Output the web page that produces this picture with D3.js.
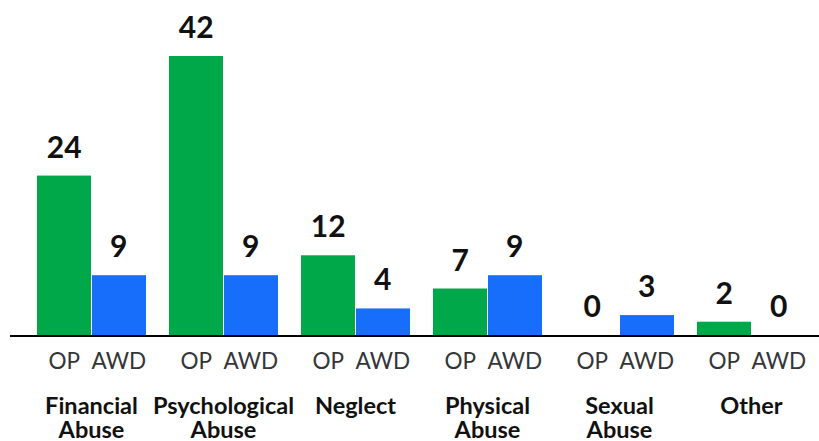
<!DOCTYPE html>
<html><head><meta charset="utf-8">
<script src="https://cdn.jsdelivr.net/npm/d3@7"></script>
<style>body{margin:0;background:#fff}svg{display:block}text{font-family:Lato,"Open Sans",sans-serif}</style>
</head><body>
<svg id="c" width="819" height="441"></svg>
<script>
const categories = [["Financial","Abuse"],["Psychological","Abuse"],["Neglect"],["Physical","Abuse"],["Sexual","Abuse"],["Other"]];
const seriesNames = ["OP","AWD"];
const opValues = [24,42,12,7,0,2];
const awdValues = [9,9,4,9,3,0];
const colors = {OP:"#00A84A", AWD:"#176EFB"};

const svg = d3.select("#c");
const catKeys = categories.map(c=>c.join(" "));
const x0 = d3.scaleBand().domain(catKeys).range([25.5,817.5]).paddingInner(0.174).paddingOuter(0.087);
const x1 = d3.scaleBand().domain(seriesNames).range([0,x0.bandwidth()]);
const y = d3.scaleLinear().domain([0,42]).range([335,56]);

const data = catKeys.map((k,i)=>({key:k, lines:categories[i], vals:[{s:"OP",v:opValues[i]},{s:"AWD",v:awdValues[i]}]}));

const g = svg.selectAll("g.grp").data(data).enter().append("g").attr("class","grp")
  .attr("transform",d=>`translate(${x0(d.key)},0)`);

g.selectAll("rect").data(d=>d.vals).enter().append("rect")
  .attr("x",d=>x1(d.s)+(d.s==="AWD"?0.5:0)).attr("width",x1.bandwidth()-0.5)
  .attr("y",d=>y(d.v)).attr("height",d=>y(0)-y(d.v))
  .attr("fill",d=>colors[d.s]);

g.selectAll("text.val").data(d=>d.vals).enter().append("text").attr("class","val")
  .attr("x",d=>x1(d.s)+x1.bandwidth()/2).attr("y",d=>y(d.v)-18)
  .attr("text-anchor","middle").attr("font-size",30).attr("font-weight","bold").attr("fill","#111")
  .text(d=>d.v);

g.selectAll("text.ser").data(d=>d.vals).enter().append("text").attr("class","ser")
  .attr("x",d=>x1(d.s)+x1.bandwidth()/2).attr("y",369)
  .attr("text-anchor","middle").attr("font-size",22.5).attr("fill","#333639")
  .text(d=>d.s);

g.append("text").attr("class","cat")
  .attr("x",x0.bandwidth()/2).attr("y",414)
  .attr("text-anchor","middle").attr("font-size",23.5).attr("font-weight","bold").attr("fill","#111")
  .selectAll("tspan").data(d=>d.lines).enter().append("tspan")
  .attr("x",x0.bandwidth()/2).attr("dy",(d,i)=>i===0?0:23.5).text(d=>d);

svg.append("line").attr("x1",10).attr("x2",819).attr("y1",336).attr("y2",336)
  .attr("stroke","#000").attr("stroke-width",2);
</script>
</body></html>
